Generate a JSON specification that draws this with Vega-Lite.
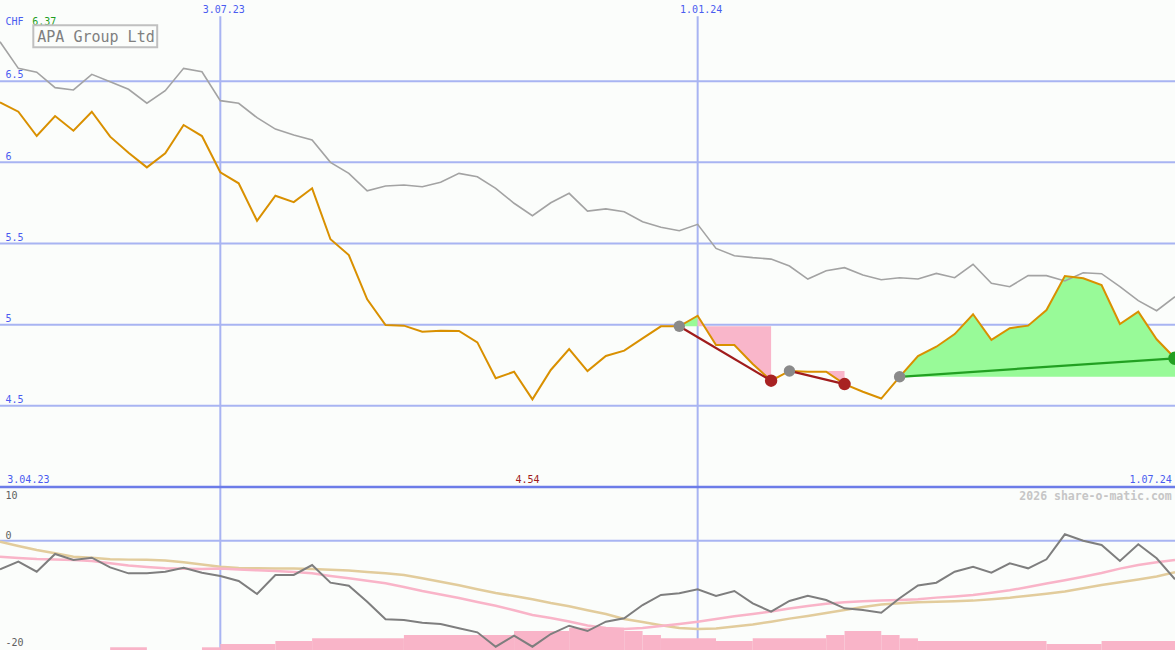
{
  "$schema": "https://vega.github.io/schema/vega-lite/v6.json",
  "width": 1175,
  "height": 650,
  "autosize": {"type": "none"},
  "padding": 0,
  "background": "#fbfdfb",
  "config": {
    "view": {"stroke": null},
    "axis": {"disable": true},
    "legend": {"disable": true},
    "text": {"font": "DejaVu Sans Mono", "fontSize": 10}
  },
  "datasets": {
    "weekly": [
      {"date":"2023-04-10","price":6.37,"ref":6.743,"osc":-5.53,"ma":-3.09,"ma2":-0.19},
      {"date":"2023-04-17","price":6.312,"ref":6.579,"osc":-4.06,"ma":-3.35,"ma2":-1.03},
      {"date":"2023-04-24","price":6.162,"ref":6.555,"osc":-6.0,"ma":-3.54,"ma2":-1.8},
      {"date":"2023-05-01","price":6.285,"ref":6.46,"osc":-2.57,"ma":-3.64,"ma2":-2.44},
      {"date":"2023-05-08","price":6.195,"ref":6.446,"osc":-3.73,"ma":-3.73,"ma2":-3.09},
      {"date":"2023-05-15","price":6.312,"ref":6.542,"osc":-3.29,"ma":-3.93,"ma2":-3.29},
      {"date":"2023-05-22","price":6.158,"ref":6.497,"osc":-5.15,"ma":-4.37,"ma2":-3.6},
      {"date":"2023-05-29","price":6.059,"ref":6.45,"osc":-6.31,"ma":-4.8,"ma2":-3.66},
      {"date":"2023-06-05","price":5.969,"ref":6.364,"osc":-6.31,"ma":-5.09,"ma2":-3.69},
      {"date":"2023-06-12","price":6.056,"ref":6.441,"osc":-6.0,"ma":-5.34,"ma2":-3.83},
      {"date":"2023-06-19","price":6.23,"ref":6.579,"osc":-5.22,"ma":-5.42,"ma2":-4.18},
      {"date":"2023-06-26","price":6.162,"ref":6.558,"osc":-6.19,"ma":-5.47,"ma2":-4.6},
      {"date":"2023-07-03","price":5.939,"ref":6.38,"osc":-6.83,"ma":-5.38,"ma2":-5.05},
      {"date":"2023-07-10","price":5.871,"ref":6.364,"osc":-7.79,"ma":-5.57,"ma2":-5.28},
      {"date":"2023-07-17","price":5.64,"ref":6.275,"osc":-10.31,"ma":-5.73,"ma2":-5.34},
      {"date":"2023-07-24","price":5.794,"ref":6.205,"osc":-6.63,"ma":-5.86,"ma2":-5.36},
      {"date":"2023-07-31","price":5.755,"ref":6.168,"osc":-6.63,"ma":-6.05,"ma2":-5.38},
      {"date":"2023-08-07","price":5.84,"ref":6.138,"osc":-4.7,"ma":-6.31,"ma2":-5.47},
      {"date":"2023-08-14","price":5.526,"ref":6.0,"osc":-8.12,"ma":-6.83,"ma2":-5.61},
      {"date":"2023-08-21","price":5.429,"ref":5.932,"osc":-8.7,"ma":-7.27,"ma2":-5.78},
      {"date":"2023-08-28","price":5.156,"ref":5.825,"osc":-11.8,"ma":-7.76,"ma2":-6.05},
      {"date":"2023-09-04","price":4.998,"ref":5.854,"osc":-15.2,"ma":-8.24,"ma2":-6.29},
      {"date":"2023-09-11","price":4.994,"ref":5.86,"osc":-15.34,"ma":-8.96,"ma2":-6.63},
      {"date":"2023-09-18","price":4.957,"ref":5.85,"osc":-15.86,"ma":-9.73,"ma2":-7.27},
      {"date":"2023-09-25","price":4.963,"ref":5.877,"osc":-16.11,"ma":-10.41,"ma2":-7.93},
      {"date":"2023-10-02","price":4.961,"ref":5.932,"osc":-16.94,"ma":-11.08,"ma2":-8.63},
      {"date":"2023-10-09","price":4.891,"ref":5.911,"osc":-17.72,"ma":-11.86,"ma2":-9.4},
      {"date":"2023-10-16","price":4.67,"ref":5.84,"osc":-20.5,"ma":-12.57,"ma2":-10.12},
      {"date":"2023-10-23","price":4.71,"ref":5.748,"osc":-18.38,"ma":-13.46,"ma2":-10.7},
      {"date":"2023-10-30","price":4.54,"ref":5.671,"osc":-20.5,"ma":-14.37,"ma2":-11.34},
      {"date":"2023-11-06","price":4.721,"ref":5.751,"osc":-18.05,"ma":-14.95,"ma2":-12.05},
      {"date":"2023-11-13","price":4.85,"ref":5.809,"osc":-16.44,"ma":-15.63,"ma2":-12.67},
      {"date":"2023-11-20","price":4.714,"ref":5.7,"osc":-17.47,"ma":-16.4,"ma2":-13.46},
      {"date":"2023-11-27","price":4.807,"ref":5.713,"osc":-15.67,"ma":-16.89,"ma2":-14.18},
      {"date":"2023-12-04","price":4.84,"ref":5.696,"osc":-15.01,"ma":-17.08,"ma2":-15.15},
      {"date":"2023-12-11","price":4.916,"ref":5.634,"osc":-12.44,"ma":-16.89,"ma2":-15.73},
      {"date":"2023-12-18","price":4.99,"ref":5.6,"osc":-10.5,"ma":-16.5,"ma2":-16.34},
      {"date":"2023-12-25","price":4.99,"ref":5.579,"osc":-10.17,"ma":-16.11,"ma2":-16.89},
      {"date":"2024-01-01","price":5.055,"ref":5.618,"osc":-9.4,"ma":-15.67,"ma2":-17.08},
      {"date":"2024-01-08","price":4.875,"ref":5.47,"osc":-10.7,"ma":-15.15,"ma2":-16.98},
      {"date":"2024-01-15","price":4.875,"ref":5.425,"osc":-9.73,"ma":-14.62,"ma2":-16.6},
      {"date":"2024-01-22","price":4.758,"ref":5.413,"osc":-12.11,"ma":-14.18,"ma2":-16.21},
      {"date":"2024-01-29","price":4.655,"ref":5.404,"osc":-13.73,"ma":-13.69,"ma2":-15.67},
      {"date":"2024-02-05","price":4.715,"ref":5.361,"osc":-11.66,"ma":-13.11,"ma2":-15.07},
      {"date":"2024-02-12","price":4.71,"ref":5.281,"osc":-10.64,"ma":-12.63,"ma2":-14.56},
      {"date":"2024-02-19","price":4.71,"ref":5.332,"osc":-11.47,"ma":-12.2,"ma2":-13.98},
      {"date":"2024-02-26","price":4.634,"ref":5.351,"osc":-13.08,"ma":-11.91,"ma2":-13.4},
      {"date":"2024-03-04","price":4.587,"ref":5.306,"osc":-13.4,"ma":-11.7,"ma2":-12.82},
      {"date":"2024-03-11","price":4.545,"ref":5.277,"osc":-13.93,"ma":-11.57,"ma2":-12.34},
      {"date":"2024-03-18","price":4.679,"ref":5.289,"osc":-11.14,"ma":-11.47,"ma2":-12.11},
      {"date":"2024-03-25","price":4.807,"ref":5.281,"osc":-8.67,"ma":-11.33,"ma2":-11.91},
      {"date":"2024-04-01","price":4.864,"ref":5.316,"osc":-8.12,"ma":-11.01,"ma2":-11.8},
      {"date":"2024-04-08","price":4.942,"ref":5.289,"osc":-6.0,"ma":-10.79,"ma2":-11.7},
      {"date":"2024-04-15","price":5.064,"ref":5.372,"osc":-5.03,"ma":-10.5,"ma2":-11.59},
      {"date":"2024-04-22","price":4.906,"ref":5.255,"osc":-6.19,"ma":-10.08,"ma2":-11.33},
      {"date":"2024-04-29","price":4.978,"ref":5.234,"osc":-4.37,"ma":-9.59,"ma2":-11.03},
      {"date":"2024-05-06","price":4.994,"ref":5.302,"osc":-5.34,"ma":-8.96,"ma2":-10.64},
      {"date":"2024-05-13","price":5.09,"ref":5.302,"osc":-3.6,"ma":-8.28,"ma2":-10.25},
      {"date":"2024-05-20","price":5.3,"ref":5.269,"osc":1.24,"ma":-7.66,"ma2":-9.83},
      {"date":"2024-05-27","price":5.286,"ref":5.32,"osc":0.0,"ma":-6.96,"ma2":-9.21},
      {"date":"2024-06-03","price":5.244,"ref":5.314,"osc":-0.83,"ma":-6.25,"ma2":-8.57},
      {"date":"2024-06-10","price":5.004,"ref":5.234,"osc":-3.93,"ma":-5.4,"ma2":-8.03},
      {"date":"2024-06-17","price":5.08,"ref":5.148,"osc":-0.7,"ma":-4.7,"ma2":-7.5},
      {"date":"2024-06-24","price":4.91,"ref":5.086,"osc":-3.4,"ma":-4.18,"ma2":-6.94},
      {"date":"2024-07-01","price":4.793,"ref":5.172,"osc":-7.47,"ma":-3.73,"ma2":-6.11}
    ],
    "zones": [
      {"zone":"z1","kind":"buy","date":"2023-12-25","price":4.99,"level":4.99},
      {"zone":"z1","kind":"buy","date":"2024-01-01","price":5.055,"level":4.99},
      {"zone":"z2","kind":"sell","date":"2024-01-01","price":5.055,"level":4.99},
      {"zone":"z2","kind":"sell","date":"2024-01-08","price":4.875,"level":4.99},
      {"zone":"z2","kind":"sell","date":"2024-01-15","price":4.875,"level":4.99},
      {"zone":"z2","kind":"sell","date":"2024-01-22","price":4.758,"level":4.99},
      {"zone":"z2","kind":"sell","date":"2024-01-29","price":4.655,"level":4.99},
      {"zone":"z3","kind":"sell","date":"2024-02-05","price":4.715,"level":4.715},
      {"zone":"z3","kind":"sell","date":"2024-02-12","price":4.71,"level":4.715},
      {"zone":"z3","kind":"sell","date":"2024-02-19","price":4.71,"level":4.715},
      {"zone":"z3","kind":"sell","date":"2024-02-26","price":4.634,"level":4.715},
      {"zone":"z4","kind":"buy","date":"2024-03-18","price":4.679,"level":4.679},
      {"zone":"z4","kind":"buy","date":"2024-03-25","price":4.807,"level":4.679},
      {"zone":"z4","kind":"buy","date":"2024-04-01","price":4.864,"level":4.679},
      {"zone":"z4","kind":"buy","date":"2024-04-08","price":4.942,"level":4.679},
      {"zone":"z4","kind":"buy","date":"2024-04-15","price":5.064,"level":4.679},
      {"zone":"z4","kind":"buy","date":"2024-04-22","price":4.906,"level":4.679},
      {"zone":"z4","kind":"buy","date":"2024-04-29","price":4.978,"level":4.679},
      {"zone":"z4","kind":"buy","date":"2024-05-06","price":4.994,"level":4.679},
      {"zone":"z4","kind":"buy","date":"2024-05-13","price":5.09,"level":4.679},
      {"zone":"z4","kind":"buy","date":"2024-05-20","price":5.3,"level":4.679},
      {"zone":"z4","kind":"buy","date":"2024-05-27","price":5.286,"level":4.679},
      {"zone":"z4","kind":"buy","date":"2024-06-03","price":5.244,"level":4.679},
      {"zone":"z4","kind":"buy","date":"2024-06-10","price":5.004,"level":4.679},
      {"zone":"z4","kind":"buy","date":"2024-06-17","price":5.08,"level":4.679},
      {"zone":"z4","kind":"buy","date":"2024-06-24","price":4.91,"level":4.679},
      {"zone":"z4","kind":"buy","date":"2024-07-01","price":4.793,"level":4.679}
    ],
    "trends": [
      {"seg":"s1","kind":"sell","date":"2023-12-25","price":4.99},
      {"seg":"s1","kind":"sell","date":"2024-01-29","price":4.655},
      {"seg":"s2","kind":"sell","date":"2024-02-05","price":4.715},
      {"seg":"s2","kind":"sell","date":"2024-02-26","price":4.634},
      {"seg":"b1","kind":"buy","date":"2024-03-18","price":4.679},
      {"seg":"b1","kind":"buy","date":"2024-07-01","price":4.793}
    ],
    "markers": [
      {"date":"2023-12-25","price":4.99,"kind":"start"},
      {"date":"2024-01-29","price":4.655,"kind":"sell"},
      {"date":"2024-02-05","price":4.715,"kind":"start"},
      {"date":"2024-02-26","price":4.634,"kind":"sell"},
      {"date":"2024-03-18","price":4.679,"kind":"start"},
      {"date":"2024-07-01","price":4.793,"kind":"buy"}
    ],
    "volume": [
      {"start":"2023-05-22","end":"2023-06-05","vol":27},
      {"start":"2023-06-26","end":"2023-07-03","vol":27},
      {"start":"2023-07-03","end":"2023-07-24","vol":60},
      {"start":"2023-07-24","end":"2023-08-07","vol":90},
      {"start":"2023-08-07","end":"2023-09-11","vol":117},
      {"start":"2023-09-11","end":"2023-10-23","vol":150},
      {"start":"2023-10-23","end":"2023-11-13","vol":190},
      {"start":"2023-11-13","end":"2023-12-04","vol":223},
      {"start":"2023-12-04","end":"2023-12-11","vol":190},
      {"start":"2023-12-11","end":"2023-12-18","vol":150},
      {"start":"2023-12-18","end":"2024-01-08","vol":117},
      {"start":"2024-01-08","end":"2024-01-22","vol":90},
      {"start":"2024-01-22","end":"2024-02-19","vol":117},
      {"start":"2024-02-19","end":"2024-02-26","vol":150},
      {"start":"2024-02-26","end":"2024-03-11","vol":190},
      {"start":"2024-03-11","end":"2024-03-18","vol":150},
      {"start":"2024-03-18","end":"2024-03-25","vol":117},
      {"start":"2024-03-25","end":"2024-05-13","vol":90},
      {"start":"2024-05-13","end":"2024-06-03","vol":60},
      {"start":"2024-06-03","end":"2024-07-01","vol":90}
    ],
    "grid": [
      {"level":6.5,"label":"6.5"},
      {"level":6.0,"label":"6"},
      {"level":5.5,"label":"5.5"},
      {"level":5.0,"label":"5"},
      {"level":4.5,"label":"4.5"}
    ],
    "dates": [
      {"date":"2023-07-03","label":"3.07.23"},
      {"date":"2024-01-01","label":"1.01.24"}
    ]
  },
  "resolve": {"scale": {"y": "independent", "color": "independent", "size": "independent"}},
  "layer": [
    {
      "layer": [
        {
          "data": {"name": "grid"},
          "mark": {"type": "rule", "stroke": "#a8b4f2", "strokeWidth": 2},
          "encoding": {
            "y": {"field": "level", "type": "quantitative", "scale": {"domain": [2.996, 7], "nice": false, "zero": false}, "axis": null}
          }
        },
        {
          "data": {"name": "dates"},
          "mark": {"type": "rule", "stroke": "#a8b4f2", "strokeWidth": 2},
          "encoding": {
            "x": {"field": "date", "type": "temporal", "scale": {"domain": [{"year": 2023, "month": 4, "date": 10}, {"year": 2024, "month": 7, "date": 1}], "nice": false}, "axis": null},
            "y": {"datum": 6.9, "axis": null},
            "y2": {"datum": 2.996}
          }
        },
        {
          "data": {"values": [{}]},
          "mark": {"type": "rule", "stroke": "#6c7ce8", "strokeWidth": 2.5},
          "encoding": {"y": {"datum": 4.0, "axis": null}}
        }
      ]
    },
    {
      "layer": [
        {
          "data": {"name": "volume"},
          "mark": {"type": "rect", "fill": "#f9b4c8"},
          "encoding": {
            "x": {"field": "start", "type": "temporal", "axis": null},
            "x2": {"field": "end"},
            "y": {"field": "vol", "type": "quantitative", "scale": {"domain": [0, 6500], "nice": false}, "axis": null},
            "y2": {"datum": 0}
          }
        }
      ]
    },
    {
      "layer": [
        {
          "data": {"values": [{}]},
          "mark": {"type": "rule", "stroke": "#a8b4f2", "strokeWidth": 2},
          "encoding": {"y": {"datum": 0, "scale": {"domain": [-21.14, 104.58], "nice": false, "zero": false}, "axis": null}}
        },
        {
          "data": {"name": "weekly"},
          "mark": {"type": "line", "stroke": "#e2cc9c", "strokeWidth": 2.5},
          "encoding": {
            "x": {"field": "date", "type": "temporal", "axis": null},
            "y": {"field": "ma2", "type": "quantitative", "axis": null}
          }
        },
        {
          "data": {"name": "weekly"},
          "mark": {"type": "line", "stroke": "#f9b4c8", "strokeWidth": 2.5},
          "encoding": {
            "x": {"field": "date", "type": "temporal", "axis": null},
            "y": {"field": "ma", "type": "quantitative", "axis": null}
          }
        },
        {
          "data": {"name": "weekly"},
          "mark": {"type": "line", "stroke": "#7e7e7e", "strokeWidth": 2},
          "encoding": {
            "x": {"field": "date", "type": "temporal", "axis": null},
            "y": {"field": "osc", "type": "quantitative", "axis": null}
          }
        },
        {
          "data": {"values": [{"label": "10"}]},
          "mark": {"type": "text", "align": "left", "baseline": "alphabetic", "dx": 5.5, "dy": 10, "fill": "#606060"},
          "encoding": {
            "x": {"datum": {"year": 2023, "month": 4, "date": 10}, "type": "temporal", "axis": null},
            "y": {"datum": 10, "axis": null},
            "text": {"field": "label"}
          }
        },
        {
          "data": {"values": [{"label": "0"}]},
          "mark": {"type": "text", "align": "left", "baseline": "alphabetic", "dx": 5.5, "dy": -1.5, "fill": "#606060"},
          "encoding": {
            "x": {"datum": {"year": 2023, "month": 4, "date": 10}, "type": "temporal", "axis": null},
            "y": {"datum": 0, "axis": null},
            "text": {"field": "label"}
          }
        },
        {
          "data": {"values": [{"label": "-20"}]},
          "mark": {"type": "text", "align": "left", "baseline": "alphabetic", "dx": 5.5, "dy": 1.6, "fill": "#606060"},
          "encoding": {
            "x": {"datum": {"year": 2023, "month": 4, "date": 10}, "type": "temporal", "axis": null},
            "y": {"datum": -20, "axis": null},
            "text": {"field": "label"}
          }
        }
      ]
    },
    {
      "resolve": {"scale": {"color": "independent", "size": "independent"}},
      "layer": [
        {
          "data": {"name": "zones"},
          "mark": {"type": "area", "opacity": 1},
          "encoding": {
            "x": {"field": "date", "type": "temporal", "axis": null},
            "y": {"field": "price", "type": "quantitative", "stack": null, "scale": {"domain": [2.996, 7], "nice": false, "zero": false}, "axis": null},
            "y2": {"field": "level"},
            "detail": {"field": "zone"},
            "color": {"field": "kind", "type": "nominal", "scale": {"domain": ["buy", "sell"], "range": ["#98fa98", "#f9b6ca"]}, "legend": null}
          }
        },
        {
          "data": {"name": "weekly"},
          "mark": {"type": "line", "stroke": "#a3a3a3", "strokeWidth": 1.6},
          "encoding": {
            "x": {"field": "date", "type": "temporal", "axis": null},
            "y": {"field": "ref", "type": "quantitative", "axis": null}
          }
        },
        {
          "data": {"name": "weekly"},
          "mark": {"type": "line", "stroke": "#d99000", "strokeWidth": 2},
          "encoding": {
            "x": {"field": "date", "type": "temporal", "axis": null},
            "y": {"field": "price", "type": "quantitative", "axis": null}
          }
        },
        {
          "data": {"name": "trends"},
          "mark": {"type": "line", "strokeWidth": 2.2},
          "encoding": {
            "x": {"field": "date", "type": "temporal", "axis": null},
            "y": {"field": "price", "type": "quantitative", "axis": null},
            "detail": {"field": "seg"},
            "color": {"field": "kind", "type": "nominal", "scale": {"domain": ["sell", "buy"], "range": ["#a01c1c", "#22a022"]}, "legend": null}
          }
        },
        {
          "data": {"name": "markers"},
          "mark": {"type": "point", "filled": true, "opacity": 1},
          "encoding": {
            "x": {"field": "date", "type": "temporal", "axis": null},
            "y": {"field": "price", "type": "quantitative", "axis": null},
            "color": {"field": "kind", "type": "nominal", "scale": {"domain": ["start", "sell", "buy"], "range": ["#8a8a8a", "#a82222", "#22a022"]}, "legend": null},
            "size": {"field": "kind", "type": "nominal", "scale": {"domain": ["start", "sell", "buy"], "range": [130, 180, 180]}, "legend": null}
          }
        },
        {
          "data": {"name": "grid"},
          "mark": {"type": "text", "align": "left", "baseline": "alphabetic", "dx": 5.5, "dy": -2.7, "fill": "#4a5cf0"},
          "encoding": {
            "x": {"datum": {"year": 2023, "month": 4, "date": 10}, "type": "temporal", "axis": null},
            "y": {"field": "level", "type": "quantitative", "axis": null},
            "text": {"field": "label"}
          }
        },
        {
          "data": {"name": "dates"},
          "mark": {"type": "text", "align": "center", "baseline": "alphabetic", "dx": 3.5, "dy": 12.7, "fill": "#4a5cf0"},
          "encoding": {
            "x": {"field": "date", "type": "temporal", "axis": null},
            "y": {"datum": 7, "axis": null},
            "text": {"field": "label"}
          }
        },
        {
          "data": {"values": [{"label": "CHF"}]},
          "mark": {"type": "text", "align": "left", "baseline": "alphabetic", "dx": 5.5, "dy": 25, "fill": "#4a5cf0"},
          "encoding": {
            "x": {"datum": {"year": 2023, "month": 4, "date": 10}, "type": "temporal", "axis": null},
            "y": {"datum": 7, "axis": null},
            "text": {"field": "label"}
          }
        },
        {
          "data": {"values": [{"label": "6.37"}]},
          "mark": {"type": "text", "align": "left", "baseline": "alphabetic", "dx": 32.3, "dy": 25, "fill": "#1e9e1e"},
          "encoding": {
            "x": {"datum": {"year": 2023, "month": 4, "date": 10}, "type": "temporal", "axis": null},
            "y": {"datum": 7, "axis": null},
            "text": {"field": "label"}
          }
        },
        {
          "data": {"values": [{}]},
          "mark": {"type": "rect", "fill": "#fbfdfb", "stroke": "#c0c0c0", "strokeWidth": 2},
          "encoding": {
            "x": {"datum": {"year": 2023, "month": 4, "date": 22, "hours": 16, "minutes": 44}, "type": "temporal", "axis": null},
            "x2": {"datum": {"year": 2023, "month": 6, "date": 8, "hours": 22, "minutes": 30}},
            "y": {"datum": 6.8441, "axis": null},
            "y2": {"datum": 6.7086}
          }
        },
        {
          "data": {"values": [{"label": "APA Group Ltd"}]},
          "mark": {"type": "text", "align": "left", "baseline": "alphabetic", "dx": 4, "dy": 16.4, "fontSize": 15, "fill": "#808080"},
          "encoding": {
            "x": {"datum": {"year": 2023, "month": 4, "date": 22, "hours": 16, "minutes": 44}, "type": "temporal", "axis": null},
            "y": {"datum": 6.8441, "axis": null},
            "text": {"field": "label"}
          }
        },
        {
          "data": {"values": [{"label": "3.04.23"}]},
          "mark": {"type": "text", "align": "left", "baseline": "alphabetic", "dx": 7.3, "dy": -4.3, "fill": "#4a5cf0"},
          "encoding": {
            "x": {"datum": {"year": 2023, "month": 4, "date": 10}, "type": "temporal", "axis": null},
            "y": {"datum": 4.0, "axis": null},
            "text": {"field": "label"}
          }
        },
        {
          "data": {"values": [{"date": "2023-10-30", "label": "4.54"}]},
          "mark": {"type": "text", "align": "center", "baseline": "alphabetic", "dx": -5, "dy": -4.3, "fill": "#a01c1c"},
          "encoding": {
            "x": {"field": "date", "type": "temporal", "axis": null},
            "y": {"datum": 4.0, "axis": null},
            "text": {"field": "label"}
          }
        },
        {
          "data": {"values": [{"label": "1.07.24"}]},
          "mark": {"type": "text", "align": "right", "baseline": "alphabetic", "dx": -3.3, "dy": -4.3, "fill": "#4a5cf0"},
          "encoding": {
            "x": {"datum": {"year": 2024, "month": 7, "date": 1}, "type": "temporal", "axis": null},
            "y": {"datum": 4.0, "axis": null},
            "text": {"field": "label"}
          }
        },
        {
          "data": {"values": [{"label": "2026 share-o-matic.com"}]},
          "mark": {"type": "text", "align": "right", "baseline": "alphabetic", "dx": -3.3, "dy": 13, "fontSize": 11.5, "fontWeight": "bold", "fill": "#c6c6c6"},
          "encoding": {
            "x": {"datum": {"year": 2024, "month": 7, "date": 1}, "type": "temporal", "axis": null},
            "y": {"datum": 4.0, "axis": null},
            "text": {"field": "label"}
          }
        }
      ]
    }
  ]
}
